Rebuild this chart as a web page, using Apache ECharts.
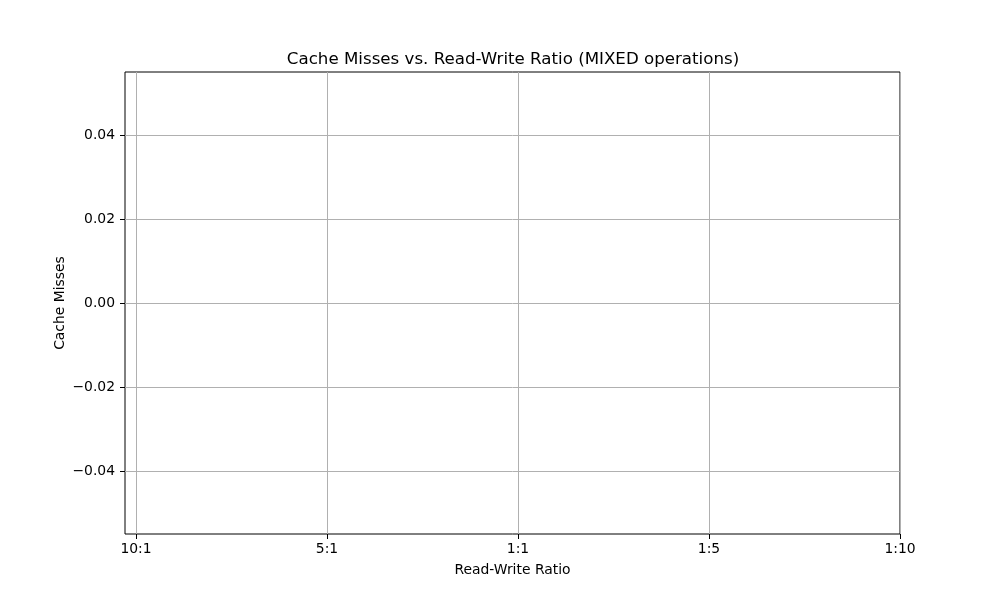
<!DOCTYPE html>
<html>
<head>
<meta charset="utf-8">
<script src="https://cdn.jsdelivr.net/npm/echarts@6/dist/echarts.min.js"></script>
<style>html,body{margin:0;padding:0;background:#fff}#c{width:1000px;height:600px}</style>
</head>
<body>
<div id="c"></div>
<script>
const ratios = ['10:1', '5:1', '1:1', '1:5', '1:10'];
const cacheMisses = [];
const yTicks = [-0.04, -0.02, 0, 0.02, 0.04];
const xTicks = [0, 1, 2, 3, 4];

const font = 'DejaVu Sans';
const chart = echarts.init(document.getElementById('c'), null, { renderer: 'canvas' });
const fmtY = v => { const s = Math.abs(v).toFixed(2); return v < -1e-12 ? '\u2212' + s : s; };
chart.setOption({
  animation: false,
  title: {
    text: 'Cache Misses vs. Read-Write Ratio (MIXED operations)',
    left: 508, top: 46, textAlign: 'center',
    textStyle: { fontFamily: font, fontSize: 16.67, fontWeight: 'normal', color: '#000' }
  },
  grid: { left: 125, right: 100, top: 72, bottom: 66, show: true, borderColor: '#000', borderWidth: 1 },
  xAxis: {
    type: 'value', min: -0.0576, max: 4,
    name: 'Read-Write Ratio', nameLocation: 'middle', nameGap: 29, nameMoveOverlap: false,
    nameTextStyle: { fontFamily: font, fontSize: 13.9, color: '#000' },
    axisLine: { show: false, onZero: false },
    axisTick: { show: true, inside: false, length: 5, lineStyle: { color: '#000' }, customValues: xTicks },
    axisLabel: { fontFamily: font, fontSize: 13.9, color: '#000', margin: 8, customValues: xTicks,
      formatter: v => ratios[Math.round(v)] },
    splitLine: { show: false }
  },
  yAxis: {
    type: 'value', min: -0.055, max: 0.055,
    name: 'Cache Misses', nameLocation: 'middle', nameGap: 58, nameRotate: 90, nameMoveOverlap: false,
    nameTextStyle: { fontFamily: font, fontSize: 13.9, color: '#000' },
    axisLine: { show: false, onZero: false },
    axisTick: { show: true, inside: false, length: 5, lineStyle: { color: '#000' }, customValues: yTicks },
    axisLabel: { fontFamily: font, fontSize: 13.9, color: '#000', margin: 10, customValues: yTicks, formatter: fmtY },
    splitLine: { show: false }
  },
  series: [
    {
      type: 'line', data: cacheMisses, symbol: 'none', silent: true,
      markLine: {
        silent: true, symbol: 'none', label: { show: false },
        lineStyle: { color: '#b0b0b0', width: 1, type: 'solid' },
        data: xTicks.map(v => ({ xAxis: v })).concat(yTicks.map(v => ({ yAxis: v })))
      }
    }
  ]
});
</script>
</body>
</html>
